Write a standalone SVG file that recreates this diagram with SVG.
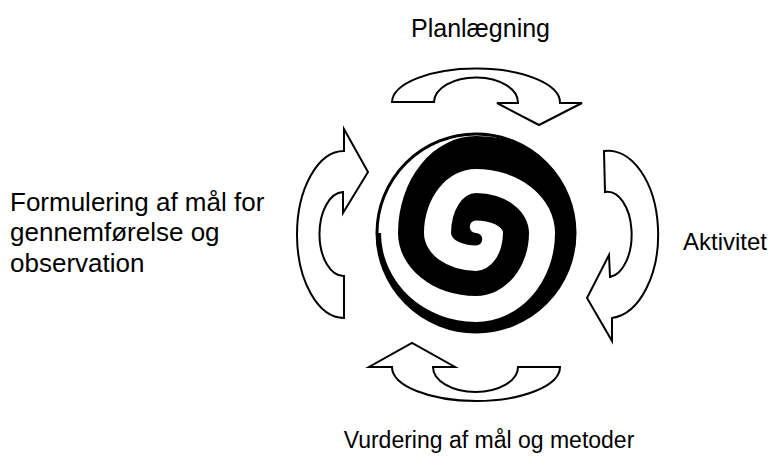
<svg xmlns="http://www.w3.org/2000/svg" width="776" height="468" viewBox="0 0 776 468">
<style>
.lbl{font-family:"Liberation Sans",Arial,sans-serif;fill:#000}
.arr{fill:#fff;stroke:#000;stroke-width:2;stroke-linejoin:miter}
</style>
<defs>
<clipPath id="disc"><circle cx="476" cy="233" r="99"/></clipPath>
</defs>
<rect width="776" height="468" fill="#fff"/>
<g id="spiral">
<circle cx="476" cy="233" r="99" fill="#fff"/>
<path clip-path="url(#disc)" fill="#000" d="M476,233 A6.25,6.25 0 0 1 476,245.5 A25,12.5 0 0 1 451,233 A25,40 0 0 1 476,193 A53,40 0 0 1 529,233 A53,63 0 0 1 476,296 A78,63 0 0 1 398,233 A78,97 0 0 1 476,136 A110,97 0 0 1 586,233 A110,115 0 0 1 476,348 A125,115 0 0 1 351,233 L381,233 A95,89 0 0 0 476,322 A79,89 0 0 0 555,233 A79,64 0 0 0 476,169 A52,64 0 0 0 424,233 A52,38 0 0 0 476,271 A27,38 0 0 0 503,233 A27,12.5 0 0 0 476,220.5 A6.25,6.25 0 0 0 476,233 Z"/>
<circle cx="476" cy="233" r="99" fill="none" stroke="#000" stroke-width="3"/>
</g>
<g id="connectors">
<path id="arrow-top" class="arr" d="M392,102 A84,34 0 0 1 560,103 L582,103 L539,125 L497,103 L518,103 A42,25 0 0 0 434,102 Z"/>
<path id="arrow-right" class="arr" d="M604,151 A50,83.5 0 0 1 612,318 L612,341 L587,298 L609,255 L610,277 A24,42.5 0 0 0 605,192 Z"/>
<path id="arrow-bottom" class="arr" d="M560,367 A84,34 0 0 1 392,367 L369,367 L412,343 L455,367 L433,367 A42.5,25 0 0 0 518,367 Z"/>
<path id="arrow-left" class="arr" d="M344,318 A47,83.5 0 0 1 344,151 L344,129 L368,172 L343,213 L343,192 A24,42 0 0 0 344,276 Z"/>
</g>
<g id="n-plan"><text class="lbl" x="411" y="37" font-size="25">Planlægning</text></g>
<g id="n-aktivitet"><text class="lbl" x="683" y="250" font-size="24">Aktivitet</text></g>
<g id="n-vurdering"><text class="lbl" x="489" y="448" font-size="23" text-anchor="middle">Vurdering af mål og metoder</text></g>
<g id="n-formulering" font-size="26"><text class="lbl" x="10" y="211">Formulering af mål for</text><text class="lbl" x="10" y="241">gennemførelse og</text><text class="lbl" x="10" y="272">observation</text></g>
</svg>
